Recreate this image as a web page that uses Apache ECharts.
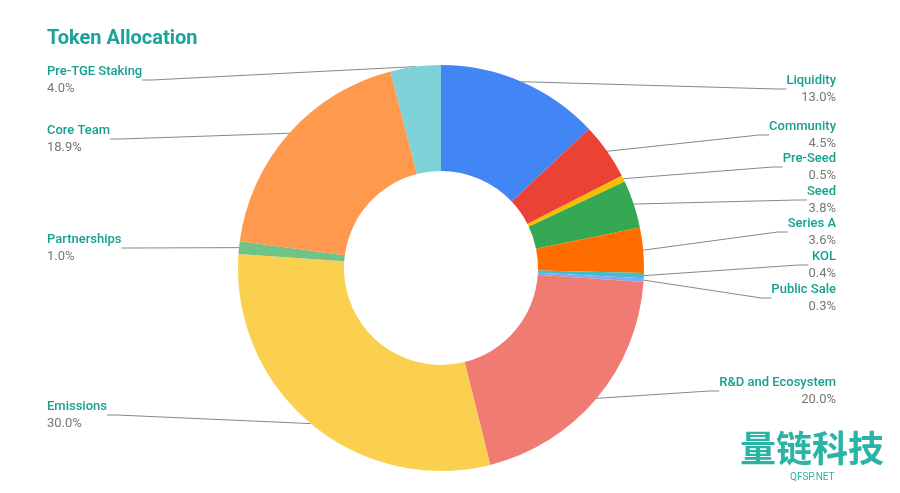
<!DOCTYPE html>
<html><head><meta charset="utf-8">
<script src="https://cdn.jsdelivr.net/npm/echarts@6/dist/echarts.min.js"></script>
<style>html,body{margin:0;background:#fff}#c{width:900px;height:493px}</style>
</head><body><div id="c"></div>
<script>
const names = ["Liquidity","Community","Pre-Seed","Seed","Series A","KOL","Public Sale","R&D and Ecosystem","Emissions","Partnerships","Core Team","Pre-TGE Staking"];
const values = [13.0,4.5,0.5,3.8,3.6,0.4,0.3,20.0,30.0,1.0,18.9,4.0];
const colors = ["#4285f4","#ea4335","#fbbc04","#34a853","#ff6d01","#46bdc6","#7baaf7","#f07b72","#fcd04f","#71c287","#ff994d","#7ed1d7"];
const labelPos = [[836,89,'right'],[836,135,'right'],[836,167,'right'],[836,200,'right'],[836,232,'right'],[836,265,'right'],[836,298,'right'],[836,391,'right'],[47,415,'left'],[47,248,'left'],[47,139,'left'],[47,80,'left']];
const chart = echarts.init(document.getElementById('c'));
chart.setOption({
  animation:false,
  title:{text:'Token Allocation',left:42,top:24,textStyle:{color:'#1aa39a',fontSize:20,fontWeight:'bold',fontFamily:'Roboto'}},
  graphic:[
    {type:'text',left:740,top:430,style:{text:'量链科技',fill:'#2bb3a6',font:'bold 36px "Noto Sans CJK SC"'}},
    {type:'text',left:790,top:472,style:{text:'QFSP.NET',fill:'#2bb3a6',font:'10px Roboto'}}
  ],
  series:[{
    type:'pie',center:[441,268],radius:[97,203],startAngle:90,clockwise:true,
    data:names.map((n,i)=>({name:n,value:values[i],itemStyle:{color:colors[i]}})),
    label:{formatter:p=>'{n|'+p.name+'}\n{v|'+p.value.toFixed(1)+'%}',
      rich:{n:{color:'#16a090',fontSize:13,fontWeight:500,fontFamily:'Roboto',lineHeight:17},v:{color:'#777',fontSize:13,fontFamily:'Roboto',lineHeight:17}}},
    labelLine:{show:true,lineStyle:{color:'#888',width:1},length:10,length2:10},
    labelLayout:p=>{const l=labelPos[p.dataIndex];return {x:l[0],y:l[1],align:l[2],verticalAlign:'middle'};}
  }]
});
</script></body></html>
